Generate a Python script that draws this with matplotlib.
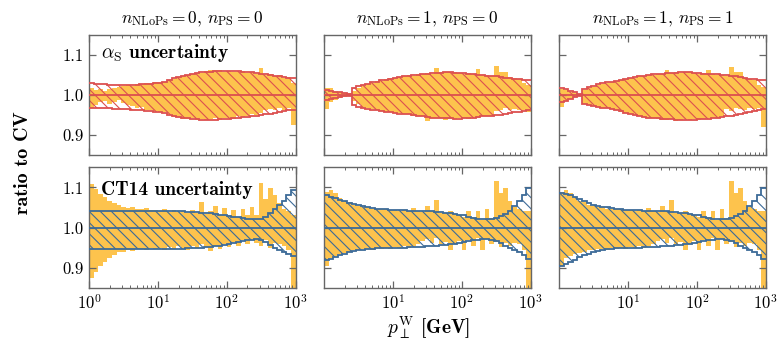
import numpy as np
import matplotlib
matplotlib.use('Agg')
import matplotlib.pyplot as plt

plt.rcParams['font.family'] = 'cmr10'
plt.rcParams['mathtext.fontset'] = 'cm'
plt.rcParams['axes.unicode_minus'] = False
plt.rcParams['axes.formatter.use_mathtext'] = True
plt.rcParams['hatch.linewidth'] = 0.8

# 45 log bins from 1 to 1000 GeV
edges = np.logspace(0, 3, 46)

# ---- top row: alpha_S uncertainty (red band), orange = comparison envelope
as_up_0 = [1.029, 1.028, 1.027, 1.026, 1.025, 1.025, 1.024, 1.024, 1.024, 1.025,
           1.025, 1.026, 1.027, 1.028, 1.029, 1.030, 1.032, 1.038, 1.041, 1.044,
           1.047, 1.050, 1.052, 1.054, 1.056, 1.057, 1.058, 1.059, 1.059, 1.060,
           1.060, 1.059, 1.059, 1.058, 1.057, 1.056, 1.054, 1.053, 1.051, 1.050,
           1.048, 1.046, 1.044, 1.042, 1.041]
as_lo_0 = [0.967, 0.967, 0.966, 0.966, 0.966, 0.965, 0.965, 0.964, 0.964, 0.963,
           0.962, 0.961, 0.960, 0.959, 0.958, 0.957, 0.955, 0.950, 0.947, 0.944,
           0.942, 0.941, 0.940, 0.939, 0.938, 0.938, 0.938, 0.938, 0.939, 0.939,
           0.940, 0.941, 0.942, 0.944, 0.945, 0.946, 0.948, 0.949, 0.951, 0.953,
           0.955, 0.957, 0.959, 0.961, 0.963]
or_up_0 = [1.018, 1.012, 1.015, 1.010, 1.014, 1.016, 1.019, 1.022, 1.024, 1.023,
           1.026, 1.027, 1.029, 1.030, 1.031, 1.032, 1.033, 1.036, 1.040, 1.045,
           1.046, 1.049, 1.053, 1.055, 1.055, 1.059, 1.062, 1.063, 1.061, 1.058,
           1.060, 1.058, 1.056, 1.059, 1.055, 1.057, 1.053, 1.066, 1.050, 1.052,
           1.047, 1.049, 1.043, 1.045, 1.030]
or_lo_0 = [0.968, 0.975, 0.981, 0.985, 0.978, 0.983, 0.986, 0.979, 0.975, 0.972,
           0.968, 0.970, 0.963, 0.962, 0.959, 0.958, 0.956, 0.952, 0.945, 0.944,
           0.940, 0.939, 0.941, 0.937, 0.940, 0.936, 0.939, 0.941, 0.938, 0.942,
           0.943, 0.940, 0.946, 0.944, 0.948, 0.952, 0.949, 0.955, 0.962, 0.965,
           0.963, 0.966, 0.962, 0.968, 0.925]

as_up_1 = [1.012, 1.010, 1.008, 1.006, 1.004, 1.003, 1.018, 1.022, 1.025, 1.028,
           1.031, 1.033, 1.036, 1.038, 1.040, 1.042, 1.044, 1.046, 1.048, 1.049,
           1.050, 1.052, 1.053, 1.054, 1.055, 1.055, 1.056, 1.056, 1.055, 1.055,
           1.054, 1.053, 1.052, 1.050, 1.049, 1.048, 1.047, 1.046, 1.045, 1.043,
           1.042, 1.040, 1.039, 1.037, 1.036]
as_lo_1 = [0.988, 0.990, 0.992, 0.994, 0.996, 0.997, 0.975, 0.970, 0.967, 0.965,
           0.963, 0.961, 0.960, 0.958, 0.956, 0.955, 0.953, 0.952, 0.951, 0.949,
           0.947, 0.946, 0.945, 0.943, 0.942, 0.942, 0.941, 0.941, 0.940, 0.940,
           0.941, 0.942, 0.943, 0.944, 0.946, 0.947, 0.948, 0.949, 0.950, 0.952,
           0.954, 0.956, 0.958, 0.960, 0.962]
or_up_1 = [1.017, 1.016, 1.010, 1.007, 1.005, 1.004, 1.010, 1.016, 1.022, 1.027,
           1.030, 1.034, 1.035, 1.039, 1.041, 1.043, 1.045, 1.046, 1.049, 1.048,
           1.052, 1.051, 1.055, 1.053, 1.066, 1.056, 1.057, 1.058, 1.056, 1.055,
           1.053, 1.055, 1.052, 1.064, 1.050, 1.049, 1.047, 1.073, 1.058, 1.058,
           1.045, 1.042, 1.040, 1.030, 1.025]
or_lo_1 = [0.965, 0.982, 0.986, 0.992, 0.995, 0.996, 0.985, 0.978, 0.970, 0.966,
           0.964, 0.962, 0.960, 0.958, 0.957, 0.955, 0.954, 0.951, 0.952, 0.948,
           0.946, 0.947, 0.935, 0.943, 0.941, 0.943, 0.938, 0.940, 0.939, 0.941,
           0.942, 0.939, 0.944, 0.943, 0.946, 0.948, 0.947, 0.960, 0.963, 0.966,
           0.962, 0.965, 0.963, 0.961, 0.958]

as_up_2 = [1.016, 1.014, 1.010, 1.006, 1.003, 1.015, 1.019, 1.022, 1.026, 1.029,
           1.031, 1.033, 1.035, 1.037, 1.040, 1.042, 1.044, 1.046, 1.048, 1.050,
           1.051, 1.052, 1.053, 1.054, 1.055, 1.055, 1.056, 1.056, 1.056, 1.055,
           1.054, 1.053, 1.052, 1.052, 1.051, 1.050, 1.049, 1.048, 1.047, 1.045,
           1.043, 1.040, 1.039, 1.037, 1.036]
as_lo_2 = [0.982, 0.985, 0.989, 0.994, 0.997, 0.977, 0.974, 0.971, 0.969, 0.968,
           0.967, 0.965, 0.962, 0.959, 0.955, 0.952, 0.949, 0.947, 0.945, 0.943,
           0.942, 0.941, 0.940, 0.939, 0.939, 0.938, 0.938, 0.938, 0.938, 0.938,
           0.939, 0.939, 0.940, 0.941, 0.942, 0.944, 0.946, 0.948, 0.950, 0.952,
           0.955, 0.958, 0.960, 0.963, 0.965]
or_up_2 = [1.015, 1.012, 1.008, 1.005, 1.002, 1.012, 1.017, 1.020, 1.025, 1.028,
           1.030, 1.033, 1.034, 1.036, 1.040, 1.041, 1.043, 1.046, 1.047, 1.049,
           1.050, 1.052, 1.053, 1.062, 1.054, 1.057, 1.055, 1.056, 1.058, 1.054,
           1.053, 1.055, 1.062, 1.051, 1.050, 1.049, 1.048, 1.070, 1.058, 1.058,
           1.043, 1.040, 1.038, 1.025, 1.020]
or_lo_2 = [0.970, 0.984, 0.990, 0.994, 0.997, 0.978, 0.975, 0.972, 0.970, 0.968,
           0.966, 0.964, 0.961, 0.958, 0.955, 0.952, 0.950, 0.948, 0.944, 0.942,
           0.941, 0.940, 0.938, 0.936, 0.939, 0.934, 0.937, 0.939, 0.936, 0.940,
           0.938, 0.940, 0.942, 0.941, 0.943, 0.946, 0.965, 0.960, 0.967, 0.964,
           0.963, 0.966, 0.965, 0.968, 0.920]

# ---- bottom row: CT14 PDF uncertainty (blue band)
ct_up_0 = [1.040, 1.040, 1.040, 1.040, 1.040, 1.040, 1.040, 1.040, 1.040, 1.040,
           1.040, 1.040, 1.041, 1.041, 1.041, 1.041, 1.041, 1.040, 1.040, 1.040,
           1.040, 1.039, 1.039, 1.038, 1.037, 1.036, 1.035, 1.033, 1.032, 1.030,
           1.029, 1.027, 1.026, 1.024, 1.022, 1.021, 1.021, 1.022, 1.027, 1.036,
           1.045, 1.055, 1.066, 1.080, 1.094]
ct_lo_0 = [0.947, 0.947, 0.947, 0.947, 0.947, 0.947, 0.947, 0.947, 0.947, 0.947,
           0.947, 0.947, 0.947, 0.947, 0.947, 0.947, 0.947, 0.947, 0.947, 0.947,
           0.947, 0.948, 0.948, 0.949, 0.950, 0.951, 0.952, 0.953, 0.955, 0.957,
           0.959, 0.961, 0.963, 0.966, 0.968, 0.970, 0.971, 0.970, 0.964, 0.956,
           0.950, 0.945, 0.940, 0.934, 0.928]
ob_up_0 = [1.108, 1.095, 1.083, 1.075, 1.065, 1.060, 1.055, 1.052, 1.048, 1.050,
           1.046, 1.045, 1.048, 1.043, 1.044, 1.041, 1.046, 1.039, 1.043, 1.038,
           1.040, 1.036, 1.044, 1.036, 1.064, 1.033, 1.041, 1.053, 1.031, 1.048,
           1.030, 1.044, 1.025, 1.045, 1.030, 1.050, 1.030, 1.112, 1.072, 1.098,
           1.082, 1.060, 1.045, 1.040, 1.030]
ob_lo_0 = [0.875, 0.890, 0.905, 0.915, 0.925, 0.932, 0.938, 0.940, 0.944, 0.942,
           0.946, 0.947, 0.944, 0.949, 0.946, 0.950, 0.945, 0.951, 0.947, 0.953,
           0.949, 0.944, 0.955, 0.950, 0.960, 0.952, 0.941, 0.955, 0.947, 0.958,
           0.952, 0.963, 0.955, 0.968, 0.960, 0.972, 0.962, 0.955, 0.968, 0.950,
           0.962, 0.958, 0.955, 0.945, 0.850]

ct_up_1 = [1.080, 1.077, 1.073, 1.069, 1.065, 1.061, 1.058, 1.055, 1.053, 1.051,
           1.049, 1.047, 1.046, 1.045, 1.044, 1.044, 1.043, 1.043, 1.042, 1.042,
           1.042, 1.041, 1.041, 1.040, 1.039, 1.038, 1.037, 1.035, 1.034, 1.032,
           1.030, 1.027, 1.024, 1.022, 1.021, 1.021, 1.022, 1.024, 1.028, 1.033,
           1.042, 1.053, 1.066, 1.082, 1.098]
ct_lo_1 = [0.918, 0.922, 0.927, 0.931, 0.935, 0.938, 0.941, 0.943, 0.945, 0.946,
           0.947, 0.948, 0.948, 0.949, 0.949, 0.950, 0.950, 0.950, 0.951, 0.951,
           0.952, 0.952, 0.953, 0.954, 0.955, 0.956, 0.957, 0.959, 0.960, 0.962,
           0.964, 0.966, 0.968, 0.970, 0.971, 0.971, 0.969, 0.966, 0.961, 0.955,
           0.950, 0.945, 0.939, 0.931, 0.922]
ob_up_1 = [1.088, 1.094, 1.085, 1.074, 1.067, 1.063, 1.056, 1.054, 1.052, 1.050,
           1.047, 1.046, 1.045, 1.046, 1.043, 1.044, 1.042, 1.044, 1.040, 1.048,
           1.041, 1.038, 1.053, 1.040, 1.068, 1.036, 1.035, 1.042, 1.033, 1.030,
           1.027, 1.040, 1.025, 1.041, 1.020, 1.046, 1.024, 1.115, 1.086, 1.098,
           1.065, 1.050, 1.045, 1.040, 1.040]
ob_lo_1 = [0.903, 0.925, 0.928, 0.933, 0.937, 0.940, 0.943, 0.945, 0.946, 0.947,
           0.944, 0.949, 0.946, 0.950, 0.947, 0.952, 0.948, 0.953, 0.949, 0.955,
           0.960, 0.966, 0.972, 0.962, 0.973, 0.958, 0.965, 0.944, 0.958, 0.966,
           0.945, 0.968, 0.955, 0.975, 0.944, 0.972, 0.960, 0.965, 0.952, 0.962,
           0.955, 0.962, 0.958, 0.945, 0.850]

ct_up_2 = [1.087, 1.084, 1.080, 1.075, 1.070, 1.065, 1.061, 1.057, 1.054, 1.052,
           1.050, 1.048, 1.046, 1.045, 1.044, 1.044, 1.043, 1.043, 1.042, 1.042,
           1.042, 1.041, 1.041, 1.040, 1.039, 1.038, 1.037, 1.035, 1.034, 1.032,
           1.030, 1.027, 1.024, 1.022, 1.021, 1.021, 1.022, 1.024, 1.028, 1.033,
           1.042, 1.053, 1.066, 1.082, 1.098]
ct_lo_2 = [0.905, 0.909, 0.914, 0.920, 0.926, 0.931, 0.935, 0.939, 0.942, 0.944,
           0.946, 0.947, 0.948, 0.949, 0.949, 0.950, 0.950, 0.950, 0.951, 0.951,
           0.952, 0.952, 0.953, 0.954, 0.955, 0.956, 0.957, 0.959, 0.960, 0.962,
           0.964, 0.966, 0.968, 0.970, 0.971, 0.971, 0.969, 0.966, 0.961, 0.955,
           0.950, 0.945, 0.939, 0.931, 0.922]

titles = [r'$n_{\mathrm{NLoPs}} = 0,\, n_{\mathrm{PS}} = 0$',
          r'$n_{\mathrm{NLoPs}} = 1,\, n_{\mathrm{PS}} = 0$',
          r'$n_{\mathrm{NLoPs}} = 1,\, n_{\mathrm{PS}} = 1$']

top_bands = [(as_lo_0, as_up_0), (as_lo_1, as_up_1), (as_lo_2, as_up_2)]
top_orange = [(or_lo_0, or_up_0), (or_lo_1, or_up_1), (or_lo_2, or_up_2)]
bot_bands = [(ct_lo_0, ct_up_0), (ct_lo_1, ct_up_1), (ct_lo_2, ct_up_2)]
bot_orange = [(ob_lo_0, ob_up_0), (ob_lo_1, ob_up_1), (ob_lo_1, ob_up_1)]

orange = '#fdc34d'
red = '#dc5050'
blue = '#3d6b98'
frame = '#666666'

fig = plt.figure(figsize=(7.77, 3.45), dpi=100)
lefts = [0.1145, 0.4170, 0.7195]
w = 0.266
axes_top = [fig.add_axes([l, 0.551, w, 0.348]) for l in lefts]
axes_bot = [fig.add_axes([l, 0.166, w, 0.349]) for l in lefts]


def draw_panel(ax, band, orng, col):
    lo, up = band
    olo, oup = orng
    ax.stairs(oup, edges, baseline=olo, fill=True, color=orange, lw=0, zorder=1)
    ax.stairs(up, edges, baseline=lo, fill=True, facecolor='none',
              edgecolor=col, hatch='\\\\\\', lw=0, zorder=2)
    ax.stairs(up, edges, baseline=None, color=col, lw=1.3, zorder=3)
    ax.stairs(lo, edges, baseline=None, color=col, lw=1.3, zorder=3)
    ax.axhline(1.0, color=col, lw=1.3, zorder=3)
    ax.set_xscale('log')
    ax.set_xlim(1, 1000)
    ax.set_ylim(0.85, 1.15)
    ax.set_yticks([0.9, 1.0, 1.1])
    ax.set_yticklabels(['0.9', '1.0', '1.1'])
    ax.tick_params(which='both', direction='in', top=True, right=True,
                   color=frame, labelsize=12)
    ax.tick_params(which='major', length=5, width=0.9)
    ax.tick_params(which='minor', length=2.5, width=0.7)
    for s in ax.spines.values():
        s.set_color(frame)
        s.set_linewidth(1.0)


for i in range(3):
    draw_panel(axes_top[i], top_bands[i], top_orange[i], red)
    draw_panel(axes_bot[i], bot_bands[i], bot_orange[i], blue)
    axes_top[i].set_title(titles[i], fontsize=12.5, pad=8)
    axes_top[i].tick_params(labelbottom=False)
    if i > 0:
        axes_top[i].tick_params(labelleft=False)
        axes_bot[i].tick_params(labelleft=False)
        axes_bot[i].set_xticks([10, 100, 1000])

axes_top[0].text(0.06, 0.85, r'$\alpha_{\mathrm{S}}$ uncertainty', transform=axes_top[0].transAxes,
                 fontsize=14, family='cmb10', va='center')
axes_bot[0].text(0.06, 0.81, 'CT14 uncertainty', transform=axes_bot[0].transAxes,
                 fontsize=14, family='cmb10', va='center')

fig.text(0.03, 0.53, 'ratio to CV', rotation=90, fontsize=14.5, family='cmb10',
         ha='center', va='center')
fig.text(0.551, 0.05, r'$p_{\perp}^{\mathrm{W}}$ [GeV]', fontsize=14, family='cmb10',
         ha='center', va='center')

fig.savefig('out.png', dpi=100)
